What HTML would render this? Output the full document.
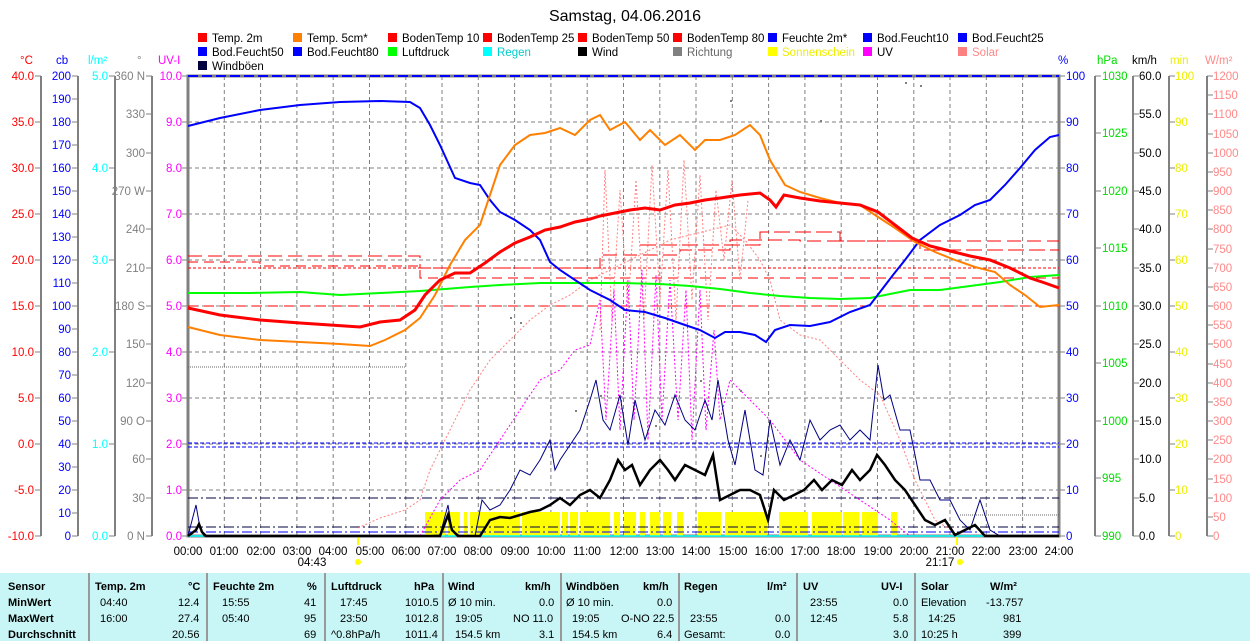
<!DOCTYPE html>
<html><head><meta charset="utf-8"><style>
body{margin:0;background:#fff;width:1250px;height:641px;overflow:hidden;font-family:"Liberation Sans",sans-serif}
svg{position:absolute;left:0;top:0}
svg text{font-family:"Liberation Sans",sans-serif;font-size:11.5px}
.tb{position:absolute;left:0;top:573px;width:1250px;height:68px;background:#c8f6f6;font-size:11px}
.tb div{position:absolute;white-space:nowrap}
.b{font-weight:bold}
.sep{position:absolute;top:0;width:2px;height:68px;background:#999}
</style></head><body>
<svg width="1250" height="573" viewBox="0 0 1250 573">
<text x="625" y="21" text-anchor="middle" style="font-size:16px">Samstag, 04.06.2016</text>
<g style="font-size:11px">
<rect x="198" y="33" width="9" height="9" fill="#f00"/><text x="212" y="42">Temp. 2m</text>
<rect x="293" y="33" width="9" height="9" fill="#ff8000"/><text x="307" y="42">Temp. 5cm*</text>
<rect x="388" y="33" width="9" height="9" fill="#f00"/><text x="402" y="42">BodenTemp 10</text>
<rect x="483" y="33" width="9" height="9" fill="#f00"/><text x="497" y="42">BodenTemp 25</text>
<rect x="578" y="33" width="9" height="9" fill="#f00"/><text x="592" y="42">BodenTemp 50</text>
<rect x="673" y="33" width="9" height="9" fill="#f00"/><text x="687" y="42">BodenTemp 80</text>
<rect x="768" y="33" width="9" height="9" fill="#00f"/><text x="782" y="42">Feuchte 2m*</text>
<rect x="863" y="33" width="9" height="9" fill="#00f"/><text x="877" y="42">Bod.Feucht10</text>
<rect x="958" y="33" width="9" height="9" fill="#00f"/><text x="972" y="42">Bod.Feucht25</text>
<rect x="198" y="47" width="9" height="9" fill="#00f"/><text x="212" y="56">Bod.Feucht50</text>
<rect x="293" y="47" width="9" height="9" fill="#00f"/><text x="307" y="56">Bod.Feucht80</text>
<rect x="388" y="47" width="9" height="9" fill="#0f0"/><text x="402" y="56">Luftdruck</text>
<rect x="483" y="47" width="9" height="9" fill="#0ff"/><text x="497" y="56" fill="#0cc">Regen</text>
<rect x="578" y="47" width="9" height="9" fill="#000"/><text x="592" y="56">Wind</text>
<rect x="673" y="47" width="9" height="9" fill="#808080"/><text x="687" y="56" fill="#666">Richtung</text>
<rect x="768" y="47" width="9" height="9" fill="#ff0"/><text x="782" y="56" fill="#ee0">Sonnenschein</text>
<rect x="863" y="47" width="9" height="9" fill="#f0f"/><text x="877" y="56">UV</text>
<rect x="958" y="47" width="9" height="9" fill="#ff8080"/><text x="972" y="56" fill="#f88">Solar</text>
<rect x="198" y="61" width="9" height="9" fill="#000040"/><text x="212" y="70">Windböen</text>
</g>
<text x="20" y="64" fill="#f00">°C</text><text x="56" y="64" fill="#00f">cb</text><text x="88" y="64" fill="#0ff">l/m²</text><text x="137" y="64" fill="#808080">°</text><text x="158" y="64" fill="#f0f">UV-I</text>
<text x="1058" y="64" fill="#00f">%</text><text x="1097" y="64" fill="#0d0">hPa</text><text x="1132" y="64">km/h</text><text x="1170" y="64" fill="#ee0">min</text><text x="1205" y="64" fill="#f88">W/m²</text>
<g stroke="#808080" stroke-dasharray="4,3" stroke-width="1">
<path d="M188 122H1059M188 168H1059M188 214H1059M188 260H1059M188 306H1059M188 352H1059M188 398H1059M188 444H1059M188 490H1059"/>
<path d="M224.3 76V536M260.6 76V536M296.9 76V536M333.2 76V536M369.5 76V536M405.8 76V536M442 76V536M478.3 76V536M514.6 76V536M550.9 76V536M587.2 76V536M623.5 76V536M659.8 76V536M696 76V536M732.3 76V536M768.6 76V536M804.9 76V536M841.2 76V536M877.5 76V536M913.8 76V536M950 76V536M986.3 76V536M1022.6 76V536"/>
</g>
<g stroke="#808080" stroke-width="2" fill="none">
<path d="M41 76V536M78 76V536M115 76V536M152 76V536"/>
<rect x="188" y="76" width="871" height="460" stroke-width="3"/>
<path d="M1095 76V536M1133 76V536M1169 76V536M1207 76V536"/>
</g>
<g stroke="#808080" stroke-width="1">
<path d="M35 76h6M35 122h6M35 168h6M35 214h6M35 260h6M35 306h6M35 352h6M35 398h6M35 444h6M35 490h6M35 536h6"/>
<path d="M72 76h6M72 99h6M72 122h6M72 145h6M72 168h6M72 191h6M72 214h6M72 237h6M72 260h6M72 283h6M72 306h6M72 329h6M72 352h6M72 375h6M72 398h6M72 421h6M72 444h6M72 467h6M72 490h6M72 513h6M72 536h6"/>
<path d="M109 76h6M109 168h6M109 260h6M109 352h6M109 444h6M109 536h6"/>
<path d="M146 76h6M146 114h6M146 153h6M146 191h6M146 229h6M146 268h6M146 306h6M146 344h6M146 383h6M146 421h6M146 459h6M146 498h6M146 536h6"/>
<path d="M182 76h6M182 122h6M182 168h6M182 214h6M182 260h6M182 306h6M182 352h6M182 398h6M182 444h6M182 490h6M182 536h6"/>
<path d="M1059 76h6M1059 122h6M1059 168h6M1059 214h6M1059 260h6M1059 306h6M1059 352h6M1059 398h6M1059 444h6M1059 490h6M1059 536h6"/>
<path d="M1095 76h6M1095 133h6M1095 191h6M1095 248h6M1095 306h6M1095 363h6M1095 421h6M1095 478h6M1095 536h6"/>
<path d="M1133 76h6M1133 114h6M1133 153h6M1133 191h6M1133 229h6M1133 268h6M1133 306h6M1133 344h6M1133 383h6M1133 421h6M1133 459h6M1133 498h6M1133 536h6"/>
<path d="M1169 76h6M1169 122h6M1169 168h6M1169 214h6M1169 260h6M1169 306h6M1169 352h6M1169 398h6M1169 444h6M1169 490h6M1169 536h6"/>
<path d="M1207 76h6M1207 95h6M1207 114h6M1207 134h6M1207 153h6M1207 172h6M1207 191h6M1207 210h6M1207 229h6M1207 249h6M1207 268h6M1207 287h6M1207 306h6M1207 325h6M1207 344h6M1207 364h6M1207 383h6M1207 402h6M1207 421h6M1207 440h6M1207 459h6M1207 479h6M1207 498h6M1207 517h6M1207 536h6"/>
</g>
<g text-anchor="end" fill="#f00">
<text x="34" y="80">40.0</text><text x="34" y="126">35.0</text><text x="34" y="172">30.0</text><text x="34" y="218">25.0</text><text x="34" y="264">20.0</text><text x="34" y="310">15.0</text><text x="34" y="356">10.0</text><text x="34" y="402">5.0</text><text x="34" y="448">0.0</text><text x="34" y="494">-5.0</text><text x="34" y="540">-10.0</text>
</g>
<g text-anchor="end" fill="#00f">
<text x="71" y="80">200</text><text x="71" y="103">190</text><text x="71" y="126">180</text><text x="71" y="149">170</text><text x="71" y="172">160</text><text x="71" y="195">150</text><text x="71" y="218">140</text><text x="71" y="241">130</text><text x="71" y="264">120</text><text x="71" y="287">110</text><text x="71" y="310">100</text><text x="71" y="333">90</text><text x="71" y="356">80</text><text x="71" y="379">70</text><text x="71" y="402">60</text><text x="71" y="425">50</text><text x="71" y="448">40</text><text x="71" y="471">30</text><text x="71" y="494">20</text><text x="71" y="517">10</text><text x="71" y="540">0</text>
</g>
<g text-anchor="end" fill="#0ff">
<text x="108" y="80">5.0</text><text x="108" y="172">4.0</text><text x="108" y="264">3.0</text><text x="108" y="356">2.0</text><text x="108" y="448">1.0</text><text x="108" y="540">0.0</text>
</g>
<g text-anchor="end" fill="#808080">
<text x="145" y="80">360 N</text><text x="145" y="118">330</text><text x="145" y="157">300</text><text x="145" y="195">270 W</text><text x="145" y="233">240</text><text x="145" y="272">210</text><text x="145" y="310">180 S</text><text x="145" y="348">150</text><text x="145" y="387">120</text><text x="145" y="425">90  O</text><text x="145" y="463">60</text><text x="145" y="502">30</text><text x="145" y="540">0  N</text>
</g>
<g text-anchor="end" fill="#f0f">
<text x="182" y="80">10.0</text><text x="182" y="126">9.0</text><text x="182" y="172">8.0</text><text x="182" y="218">7.0</text><text x="182" y="264">6.0</text><text x="182" y="310">5.0</text><text x="182" y="356">4.0</text><text x="182" y="402">3.0</text><text x="182" y="448">2.0</text><text x="182" y="494">1.0</text><text x="182" y="540">0.0</text>
</g>
<g fill="#00f">
<text x="1066" y="80">100</text><text x="1066" y="126">90</text><text x="1066" y="172">80</text><text x="1066" y="218">70</text><text x="1066" y="264">60</text><text x="1066" y="310">50</text><text x="1066" y="356">40</text><text x="1066" y="402">30</text><text x="1066" y="448">20</text><text x="1066" y="494">10</text><text x="1066" y="540">0</text>
</g>
<g fill="#0d0">
<text x="1102" y="80">1030</text><text x="1102" y="137">1025</text><text x="1102" y="195">1020</text><text x="1102" y="252">1015</text><text x="1102" y="310">1010</text><text x="1102" y="367">1005</text><text x="1102" y="425">1000</text><text x="1102" y="482">995</text><text x="1102" y="540">990</text>
</g>
<g>
<text x="1139" y="80">60.0</text><text x="1139" y="118">55.0</text><text x="1139" y="157">50.0</text><text x="1139" y="195">45.0</text><text x="1139" y="233">40.0</text><text x="1139" y="272">35.0</text><text x="1139" y="310">30.0</text><text x="1139" y="348">25.0</text><text x="1139" y="387">20.0</text><text x="1139" y="425">15.0</text><text x="1139" y="463">10.0</text><text x="1139" y="502">5.0</text><text x="1139" y="540">0.0</text>
</g>
<g fill="#ee0">
<text x="1175" y="80">100</text><text x="1175" y="126">90</text><text x="1175" y="172">80</text><text x="1175" y="218">70</text><text x="1175" y="264">60</text><text x="1175" y="310">50</text><text x="1175" y="356">40</text><text x="1175" y="402">30</text><text x="1175" y="448">20</text><text x="1175" y="494">10</text><text x="1175" y="540">0</text>
</g>
<g fill="#f88" style="font-size:11px">
<text x="1213" y="80">1200</text><text x="1213" y="99">1150</text><text x="1213" y="118">1100</text><text x="1213" y="138">1050</text><text x="1213" y="157">1000</text><text x="1213" y="176">950</text><text x="1213" y="195">900</text><text x="1213" y="214">850</text><text x="1213" y="233">800</text><text x="1213" y="253">750</text><text x="1213" y="272">700</text><text x="1213" y="291">650</text><text x="1213" y="310">600</text><text x="1213" y="329">550</text><text x="1213" y="348">500</text><text x="1213" y="368">450</text><text x="1213" y="387">400</text><text x="1213" y="406">350</text><text x="1213" y="425">300</text><text x="1213" y="444">250</text><text x="1213" y="463">200</text><text x="1213" y="483">150</text><text x="1213" y="502">100</text><text x="1213" y="521">50</text><text x="1213" y="540">0</text>
</g>
<g text-anchor="middle">
<text x="188" y="555">00:00</text><text x="224" y="555">01:00</text><text x="261" y="555">02:00</text><text x="297" y="555">03:00</text><text x="333" y="555">04:00</text><text x="370" y="555">05:00</text><text x="406" y="555">06:00</text><text x="442" y="555">07:00</text><text x="478" y="555">08:00</text><text x="515" y="555">09:00</text><text x="551" y="555">10:00</text><text x="587" y="555">11:00</text><text x="624" y="555">12:00</text><text x="660" y="555">13:00</text><text x="696" y="555">14:00</text><text x="733" y="555">15:00</text><text x="769" y="555">16:00</text><text x="805" y="555">17:00</text><text x="841" y="555">18:00</text><text x="878" y="555">19:00</text><text x="914" y="555">20:00</text><text x="950" y="555">21:00</text><text x="986" y="555">22:00</text><text x="1023" y="555">23:00</text><text x="1059" y="555">24:00</text>
<text x="312" y="566">04:43</text><text x="940" y="566">21:17</text>
</g>
<rect x="357" y="537" width="2" height="8" fill="#ff0"/><circle cx="358" cy="562" r="3" fill="#ff0"/>
<rect x="956" y="537" width="2" height="8" fill="#ff0"/><circle cx="960" cy="562" r="3" fill="#ff0"/>
<g fill="#ff0">
<rect x="425" y="512" width="20" height="24"/><rect x="448" y="512" width="12" height="24"/><rect x="464" y="512" width="3" height="24"/><rect x="470" y="512" width="50" height="24"/><rect x="522" y="512" width="38" height="24"/><rect x="562" y="512" width="6" height="24"/><rect x="570" y="512" width="8" height="24"/><rect x="580" y="512" width="30" height="24"/><rect x="614" y="512" width="6" height="24"/><rect x="624" y="512" width="12" height="24"/><rect x="640" y="512" width="5" height="24"/><rect x="650" y="512" width="10" height="24"/><rect x="663" y="512" width="8" height="24"/><rect x="677" y="512" width="6" height="24"/><rect x="698" y="512" width="23" height="24"/><rect x="725" y="512" width="42" height="24"/><rect x="779" y="512" width="29" height="24"/><rect x="812" y="512" width="30" height="24"/><rect x="843" y="512" width="16" height="24"/><rect x="862" y="512" width="16" height="24"/><rect x="891" y="512" width="6" height="24"/>
</g>
<path d="M188 76H1059" stroke="#00f" stroke-width="2" stroke-dasharray="10,4"/>
<path d="M188 536H1059" stroke="#0ff" stroke-width="1.5"/>
<path d="M188 443H1059M188 447H1059" stroke="#00f" stroke-dasharray="4,2"/>
<path d="M188 498H1059M188 527H1059" stroke="#000040" stroke-dasharray="10,3,2,3"/>
<path d="M188 532H1059" stroke="#00f" stroke-dasharray="10,3,2,3"/>
<path d="M188 367H406" stroke="#666" stroke-dasharray="1,1"/>
<path d="M960 515H1059" stroke="#666" stroke-dasharray="1,1"/>
<g stroke="#f00" fill="none" stroke-dasharray="10,6">
<path d="M188 306H1059"/>
<path d="M188 262H260V266H420V278H1059"/>
<path d="M188 256H420V268H600V255H680V250H730V240H800V241H1059" stroke-dasharray="14,6"/>
<path d="M640 245H760V232H840V241H920V250H1059" stroke-dasharray="16,5"/>
</g>
<path d="M188 268H1059" stroke="#f00" stroke-dasharray="3,2"/>
<polyline fill="none" stroke="#ff8080" stroke-dasharray="2,2" points="358,528 380,518 405,510 420,500 430,470 450,430 470,390 490,360 510,340 530,320 550,305 570,295 590,280 610,270 630,260 650,250 670,240 690,235 710,230 730,225 745,240 760,260 770,280 780,320 800,335 820,340 840,360 860,380 880,395 900,440 915,480 935,520 960,536"/>
<polyline fill="none" stroke="#ff8080" stroke-dasharray="2,2" points="600,330 605,170 612,320 620,190 628,310 636,180 644,320 652,165 660,300 668,170 676,320 684,160 692,300 700,175 708,320 716,190 724,260 732,180 740,280 748,200"/>
<polyline fill="none" stroke="#f0f" stroke-dasharray="2,2" points="420,536 440,500 460,480 480,470 500,440 520,410 540,380 560,370 575,350 590,345 600,300 606,420 614,290 620,430 628,280 634,420 642,270 648,440 656,275 662,420 670,280 678,420 686,290 692,440 700,290 706,430 714,330 720,420 730,380 750,400 770,420 800,460 830,480 860,500 890,520 910,536"/>
<polyline fill="none" stroke="#0f0" stroke-width="2" points="188,293 250,293 300,292 340,295 380,293 420,291 470,287 500,285 540,283 580,283 620,283 660,284 690,286 720,289 750,293 780,296 810,298 840,299 870,298 890,294 910,290 940,290 970,286 1000,282 1030,277 1059,275"/>
<polyline fill="none" stroke="#00f" stroke-width="2" points="188,126 220,118 260,110 300,105 340,102 380,101 410,102 420,108 430,125 440,145 455,178 470,183 480,185 490,200 500,212 515,220 530,230 540,240 550,262 560,270 575,280 590,290 610,300 625,310 645,312 665,318 685,325 700,330 715,338 725,332 740,332 755,335 766,342 775,330 790,325 810,326 830,322 850,312 870,305 880,292 893,275 905,260 920,240 940,225 960,215 975,205 990,200 1005,185 1020,168 1035,150 1050,137 1059,135"/>
<polyline fill="none" stroke="#ff8000" stroke-width="2" points="188,327 220,335 260,340 300,342 340,344 370,346 385,340 405,330 420,318 435,295 450,265 465,240 480,225 490,195 500,165 515,145 530,135 545,133 560,128 575,135 590,120 600,115 610,130 625,122 640,140 650,130 665,145 680,135 695,150 705,140 720,140 735,135 750,125 760,135 770,160 785,185 800,192 820,198 840,203 860,205 875,215 895,228 915,242 935,252 955,260 975,267 995,272 1010,285 1025,295 1040,307 1059,305"/>
<polyline fill="none" stroke="#f00" stroke-width="3" points="188,308 220,315 260,320 300,323 330,325 360,327 380,322 400,320 415,310 425,295 440,280 455,273 470,273 485,263 500,252 515,243 530,237 545,230 560,227 575,222 590,219 600,216 615,213 630,210 645,208 660,210 675,205 690,203 705,200 720,198 740,195 760,193 770,200 776,207 784,195 800,198 820,201 840,203 860,205 878,212 895,225 912,238 930,246 950,251 970,256 990,260 1010,268 1030,278 1045,283 1059,288"/>
<polyline fill="none" stroke="#000080" stroke-width="1" points="188,536 196,505 200,528 204,536 420,536 440,535 448,505 452,530 460,536 475,536 482,500 490,510 500,505 510,490 520,470 530,475 540,460 550,440 555,470 560,460 570,445 580,430 590,400 596,380 603,420 610,430 620,395 628,445 635,400 645,440 655,410 665,425 675,395 685,420 695,430 705,400 712,420 718,380 728,440 735,465 745,410 755,470 763,475 770,420 780,465 790,440 800,460 810,420 820,440 830,430 840,425 850,440 860,430 870,440 878,365 884,400 890,395 900,430 910,430 920,480 930,480 940,500 950,500 960,520 970,530 980,500 990,530 1000,536 1059,536"/>
<polyline fill="none" stroke="#000" stroke-width="2.5" points="188,536 196,530 199,524 202,532 206,536 440,536 448,515 452,530 458,536 480,536 490,520 500,517 510,518 520,515 530,512 540,510 550,505 560,498 570,505 580,495 590,490 600,498 610,480 618,460 625,470 632,465 640,485 650,470 660,460 668,470 675,480 685,465 695,470 705,475 713,455 720,500 730,495 740,490 750,490 760,495 768,520 774,490 784,500 794,495 804,490 814,480 822,490 832,480 842,485 852,470 860,480 870,470 877,455 885,465 895,480 905,490 915,505 925,520 935,525 945,520 955,535 965,530 975,525 985,536 1059,536"/>
<g fill="#808080"><rect x="520" y="322" width="2" height="2"/><rect x="510" y="317" width="2" height="2"/><rect x="575" y="410" width="2" height="2"/><rect x="600" y="395" width="2" height="2"/><rect x="700" y="380" width="2" height="2"/><rect x="740" y="390" width="2" height="2"/><rect x="820" y="120" width="2" height="2"/><rect x="905" y="82" width="2" height="2"/><rect x="920" y="85" width="2" height="2"/><rect x="730" y="100" width="2" height="2"/><rect x="655" y="425" width="2" height="2"/><rect x="760" y="455" width="2" height="2"/></g>
</svg>
<div class="tb">
<div class="sep" style="left:88px"></div><div class="sep" style="left:206px"></div><div class="sep" style="left:324px"></div><div class="sep" style="left:442px"></div><div class="sep" style="left:560px"></div><div class="sep" style="left:678px"></div><div class="sep" style="left:796px"></div><div class="sep" style="left:914px"></div>
<div class="b" style="left:8px;top:8px">Sensor</div><div class="b" style="left:8px;top:24px">MinWert</div><div class="b" style="left:8px;top:40px">MaxWert</div><div class="b" style="left:8px;top:56px">Durchschnitt</div>
<div class="b" style="left:95px;top:8px">Temp. 2m</div><div class="b" style="left:188px;top:8px">°C</div>
<div style="left:100px;top:24px">04:40</div><div style="left:178px;top:24px">12.4</div><div style="left:100px;top:40px">16:00</div><div style="left:178px;top:40px">27.4</div><div style="left:172px;top:56px">20.56</div>
<div class="b" style="left:213px;top:8px">Feuchte 2m</div><div class="b" style="left:307px;top:8px">%</div>
<div style="left:222px;top:24px">15:55</div><div style="left:304px;top:24px">41</div><div style="left:222px;top:40px">05:40</div><div style="left:304px;top:40px">95</div><div style="left:304px;top:56px">69</div>
<div class="b" style="left:331px;top:8px">Luftdruck</div><div class="b" style="left:414px;top:8px">hPa</div>
<div style="left:340px;top:24px">17:45</div><div style="left:405px;top:24px">1010.5</div><div style="left:340px;top:40px">23:50</div><div style="left:405px;top:40px">1012.8</div><div style="left:331px;top:56px">^0.8hPa/h</div><div style="left:405px;top:56px">1011.4</div>
<div class="b" style="left:448px;top:8px">Wind</div><div class="b" style="left:525px;top:8px">km/h</div>
<div style="left:448px;top:24px">Ø 10 min.</div><div style="left:539px;top:24px">0.0</div><div style="left:455px;top:40px">19:05</div><div style="left:513px;top:40px">NO 11.0</div><div style="left:455px;top:56px">154.5 km</div><div style="left:539px;top:56px">3.1</div>
<div class="b" style="left:566px;top:8px">Windböen</div><div class="b" style="left:643px;top:8px">km/h</div>
<div style="left:566px;top:24px">Ø 10 min.</div><div style="left:657px;top:24px">0.0</div><div style="left:572px;top:40px">19:05</div><div style="left:621px;top:40px">O-NO 22.5</div><div style="left:572px;top:56px">154.5 km</div><div style="left:657px;top:56px">6.4</div>
<div class="b" style="left:684px;top:8px">Regen</div><div class="b" style="left:767px;top:8px">l/m²</div>
<div style="left:690px;top:40px">23:55</div><div style="left:775px;top:40px">0.0</div><div style="left:684px;top:56px">Gesamt:</div><div style="left:775px;top:56px">0.0</div>
<div class="b" style="left:803px;top:8px">UV</div><div class="b" style="left:881px;top:8px">UV-I</div>
<div style="left:810px;top:24px">23:55</div><div style="left:893px;top:24px">0.0</div><div style="left:810px;top:40px">12:45</div><div style="left:893px;top:40px">5.8</div><div style="left:893px;top:56px">3.0</div>
<div class="b" style="left:921px;top:8px">Solar</div><div class="b" style="left:990px;top:8px">W/m²</div>
<div style="left:921px;top:24px">Elevation</div><div style="left:986px;top:24px">-13.757</div><div style="left:928px;top:40px">14:25</div><div style="left:1003px;top:40px">981</div><div style="left:921px;top:56px">10:25 h</div><div style="left:1003px;top:56px">399</div>
</div>
</body></html>
